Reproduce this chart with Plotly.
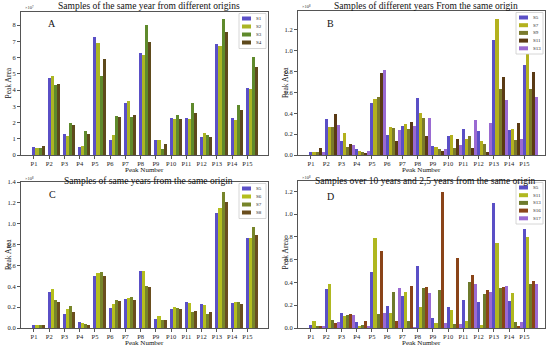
import plotly.graph_objects as go

W, H = 550, 348
peaks = [f"P{i}" for i in range(1, 16)]
pos = list(range(1, 16))

# Panel A (x10^7)
s1 = [0.5, 4.75, 1.3, 0.5, 7.25, 0.95, 3.2, 6.25, 0.95, 2.25, 2.3, 1.1, 6.85, 2.25, 4.15]
s2 = [0.45, 4.85, 1.15, 0.55, 6.9, 1.25, 3.3, 6.15, 0.95, 2.2, 2.2, 1.35, 6.7, 2.15, 4.05]
s3 = [0.45, 4.3, 1.95, 1.5, 4.85, 2.4, 2.35, 8.0, 0.4, 2.45, 3.2, 1.25, 8.4, 3.05, 6.05]
s4 = [0.55, 4.35, 1.85, 1.3, 5.9, 2.35, 2.45, 6.95, 0.7, 2.2, 2.6, 1.1, 7.55, 2.75, 5.4]
# Panels B, C, D (x10^8)
s5 = [0.03, 0.345, 0.13, 0.055, 0.495, 0.195, 0.28, 0.545, 0.085, 0.18, 0.25, 0.23, 1.10, 0.235, 0.865]
s6 = [0.03, 0.37, 0.18, 0.05, 0.525, 0.23, 0.29, 0.55, 0.115, 0.20, 0.235, 0.22, 1.15, 0.25, 0.865]
s7 = [0.025, 0.265, 0.21, 0.035, 0.535, 0.265, 0.295, 0.40, 0.072, 0.19, 0.158, 0.138, 1.30, 0.25, 0.97]
s8 = [0.025, 0.25, 0.155, 0.025, 0.50, 0.255, 0.265, 0.39, 0.075, 0.18, 0.16, 0.15, 1.21, 0.23, 0.89]
s9 = [0.03, 0.27, 0.075, 0.03, 0.555, 0.255, 0.25, 0.35, 0.055, 0.07, 0.18, 0.11, 0.63, 0.145, 0.63]
s11 = [0.065, 0.39, 0.105, 0.012, 0.79, 0.13, 0.315, 0.18, 0.04, 0.155, 0.065, 0.03, 0.745, 0.31, 0.80]
s13_b = [0.03, 0.285, 0.10, 0.035, 0.81, 0.24, 0.28, 0.355, 0.06, 0.095, 0.34, 0.305, 0.53, 0.155, 0.56]
s13_d = [0.01, 0.07, 0.115, 0.03, 0.125, 0.32, 0.065, 0.35, 0.335, 0.035, 0.40, 0.295, 0.35, 0.05, 0.385]
s16 = [0.02, 0.04, 0.12, 0.06, 0.675, 0.06, 0.365, 0.36, 1.19, 0.615, 0.465, 0.33, 0.36, 0.02, 0.41]
s17 = [0.01, 0.05, 0.115, 0.01, 0.135, 0.35, 0.005, 0.31, 0.045, 0.035, 0.39, 0.32, 0.37, 0.055, 0.385]

BLUE = "#5a4fc6"
YG = "#abb524"
PURPLE = "#9a6ad2"

panels = [
    dict(letter="A", title="Samples of the same year from different origins", exp="×10⁷",
         x=(21, 268), y=(12, 155), yr=[0, 8.8], dtick=1, fmt="d", lpos=(52, 23), ty=6.5,
         series=[("S1", s1, BLUE), ("S2", s2, YG), ("S3", s3, "#5f8a2c"), ("S4", s4, "#5e4a1c")]),
    dict(letter="B", title="Samples of different years From the same origin", exp="×10⁸",
         x=(298, 545), y=(11, 155), yr=[0, 1.38], dtick=0.2, fmt=".1f", lpos=(330, 23), ty=6,
         series=[("S5", s5, BLUE), ("S7", s7, "#b3b11e"), ("S9", s9, "#7a7a2c"),
                 ("S11", s11, "#5a3a14"), ("S13", s13_b, PURPLE)]),
    dict(letter="C", title="Samples of same years from the same origin", exp="×10⁸",
         x=(21, 268), y=(182, 328), yr=[0, 1.40], dtick=0.2, fmt=".1f", lpos=(52, 194), ty=180.5,
         series=[("S5", s5, BLUE), ("S6", s6, "#b4be1e"), ("S7", s7, "#77852a"), ("S8", s8, "#6a4e1e")]),
    dict(letter="D", title="Samples over 10 years and 2,5 years from the same origin", exp="×10⁸",
         x=(298, 545), y=(181, 328), yr=[0, 1.29], dtick=0.2, fmt=".1f", lpos=(330, 196), ty=180.5,
         series=[("S5", s5, BLUE), ("S11", s11, "#b0b820"), ("S13", s13_d, "#6e7a2c"),
                 ("S16", s16, "#8a4418"), ("S17", s17, PURPLE)]),
]

FONT = "Liberation Serif"
BW = 0.2


def px(x):
    return x / W


def py(y):
    return 1 - y / H


fig = go.Figure()
annotations = []
shapes = []
layout_axes = {}

for i, p in enumerate(panels):
    n = i + 1
    xa = "x" if n == 1 else f"x{n}"
    ya = "y" if n == 1 else f"y{n}"
    for k, (nm, vals, col) in enumerate(p["series"]):
        fig.add_trace(go.Bar(x=pos, y=vals, name=nm, width=BW, offset=k * BW - BW / 2,
                             marker=dict(color=col, line=dict(width=0)),
                             xaxis=xa, yaxis=ya, showlegend=False))
    x0, x1 = p["x"]
    y0, y1 = p["y"]
    xkey = "xaxis" if n == 1 else f"xaxis{n}"
    ykey = "yaxis" if n == 1 else f"yaxis{n}"
    layout_axes[xkey] = dict(domain=[px(x0), px(x1)], anchor=ya, range=[0.15, 16.35],
                             tickvals=pos, ticktext=peaks, showgrid=False, zeroline=False,
                             showline=True, mirror=True, linecolor="#555", linewidth=1,
                             ticks="outside", ticklen=2.5, tickcolor="#555", automargin=False,
                             tickfont=dict(family=FONT, size=6.5, color="#222"))
    layout_axes[ykey] = dict(domain=[py(y1), py(y0)], anchor=xa, range=p["yr"], dtick=p["dtick"],
                             tick0=0, tickformat=p["fmt"], showgrid=False, zeroline=False,
                             showline=True, mirror=True, linecolor="#555", linewidth=1,
                             ticks="outside", ticklen=3, tickcolor="#555", automargin=False,
                             tickfont=dict(family=FONT, size=6.5, color="#222"))
    # title
    annotations.append(dict(x=px((x0 + x1) / 2 + 4), y=py(p["ty"]), xref="paper", yref="paper",
                            text=p["title"], showarrow=False, xanchor="center", yanchor="middle",
                            borderpad=0, font=dict(family=FONT, size=9.5, color="#111")))
    # exponent
    annotations.append(dict(x=px(x0 + 2), y=py(y0 - 4), xref="paper", yref="paper", text=p["exp"],
                            showarrow=False, xanchor="left", yanchor="middle",
                            font=dict(family=FONT, size=4.5, color="#333")))
    # panel letter
    annotations.append(dict(x=px(p["lpos"][0]), y=py(p["lpos"][1]), xref="paper", yref="paper",
                            text=p["letter"], showarrow=False, xanchor="center", yanchor="middle",
                            font=dict(family=FONT, size=10, color="#111")))
    # axis titles
    annotations.append(dict(x=px((x0 + x1) / 2), y=py(y1 + 14.8), xref="paper", yref="paper",
                            text="Peak Number", showarrow=False, xanchor="center", yanchor="middle",
                            borderpad=0, font=dict(family=FONT, size=7, color="#111")))
    annotations.append(dict(x=px(x0 - 13), y=py((y0 + y1) / 2), xref="paper", yref="paper",
                            text="Peak Area", showarrow=False, textangle=-90, xanchor="center",
                            yanchor="middle", font=dict(family=FONT, size=7.5, color="#111")))
    # legend box
    ns = len(p["series"])
    lx0, lx1 = x1 - 29, x1 - 2
    ly0 = y0 + 1.5
    step = 8.0 if ns == 4 else 7.7
    ly1 = ly0 + 3 + ns * step
    shapes.append(dict(type="rect", xref="paper", yref="paper", x0=px(lx0), x1=px(lx1),
                       y0=py(ly1), y1=py(ly0), line=dict(color="#ccc", width=0.8),
                       fillcolor="rgba(255,255,255,0.85)"))
    for k, (nm, vals, col) in enumerate(p["series"]):
        cy = ly0 + 5 + k * step
        shapes.append(dict(type="rect", xref="paper", yref="paper", x0=px(lx0 + 3), x1=px(lx0 + 12),
                           y0=py(cy + 2), y1=py(cy - 2), line=dict(width=0), fillcolor=col))
        annotations.append(dict(x=px(lx0 + 15), y=py(cy), xref="paper", yref="paper", text=nm,
                                showarrow=False, xanchor="left", yanchor="middle",
                                font=dict(family=FONT, size=5, color="#222")))

fig.update_layout(width=W, height=H, margin=dict(l=0, r=0, t=0, b=0),
                  paper_bgcolor="white", plot_bgcolor="white", barmode="overlay",
                  bargap=0, annotations=annotations, shapes=shapes, **layout_axes)

fig.write_html("out.html", config={"displayModeBar": False},
               post_script="document.body.style.margin='0';document.body.style.overflow='hidden';")
